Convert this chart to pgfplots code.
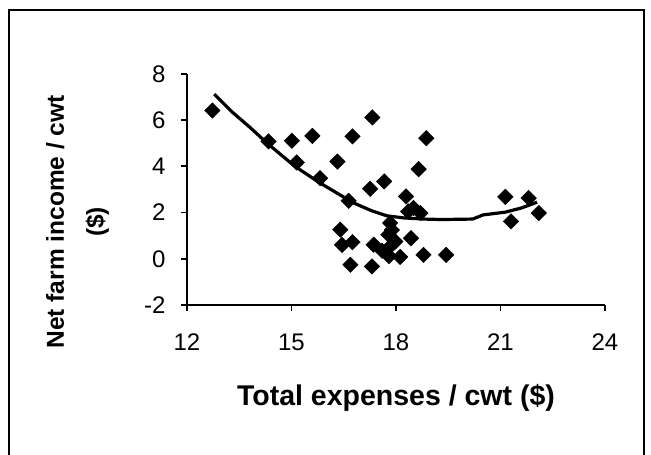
\documentclass[border=0pt]{standalone}
\usepackage{fontspec}
\setmainfont{Liberation Sans}
\usepackage{pgfplots}
\pgfplotsset{compat=1.18}

% scatter points (total expenses / cwt, net farm income / cwt)
\pgfplotstableread{
x y
12.73 6.42
14.34 5.08
15.01 5.11
15.60 5.32
16.75 5.30
17.32 6.12
15.15 4.17
16.32 4.21
15.82 3.49
17.26 3.03
17.66 3.35
16.64 2.51
16.40 1.26
16.45 0.60
16.75 0.72
16.69 -0.26
17.31 -0.33
17.36 0.61
17.60 0.35
17.83 1.55
17.78 1.04
17.83 0.53
17.80 0.12
17.98 0.75
17.88 1.25
18.12 0.08
18.43 0.89
18.79 0.17
19.44 0.17
18.87 5.22
18.65 3.88
18.29 2.70
18.50 2.20
18.70 1.98
18.35 2.05
21.14 2.68
21.81 2.63
22.10 1.98
21.30 1.62
}\pts

% fitted trend line
\pgfplotstableread{
x y
12.78 7.13
13.30 6.35
13.80 5.70
14.29 5.02
14.70 4.50
15.10 4.00
15.50 3.60
15.80 3.30
16.30 2.85
16.78 2.42
17.30 2.08
17.74 1.86
18.22 1.77
18.80 1.72
19.30 1.70
20.20 1.72
20.50 1.90
21.14 2.02
21.60 2.20
22.05 2.45
}\trend

\begin{document}
\begin{tikzpicture}
\path[use as bounding box] (0,0) rectangle (651pt,455pt);
\draw[line width=2pt] (9pt,0pt) -- (9pt,445pt) -- (644pt,445pt) -- (644pt,0pt);
\begin{axis}[
    at={(187pt,150pt)}, anchor=south west,
    scale only axis,
    width=418pt, height=231pt,
    xmin=12, xmax=24, ymin=-2, ymax=8,
    xtick={12,15,18,21,24},
    ytick={-2,0,2,4,6,8},
    axis x line=bottom, axis y line=left,
    axis line style={-, line width=1.8pt},
    tick align=outside,
    major tick length=6pt,
    tick style={line width=1.8pt, black},
    /pgf/number format/assume math mode=true,
    tick label style={font=\fontsize{24}{28}\selectfont},
    xticklabel style={yshift=-19pt},
    yticklabel style={xshift=-12pt},
    xlabel={\textbf{Total expenses / cwt (\$)}},
    xlabel style={at={(axis description cs:0.5,-0.40)}, anchor=center,
        font=\fontsize{28.5}{32}\selectfont},
    ylabel={\textbf{Net farm income / cwt}\\\textbf{(\$)}},
    ylabel style={at={(axis description cs:-0.262,0.36)}, anchor=center,
        rotate=0, align=center, font=\fontsize{24.5}{40}\selectfont},
    clip=false,
]
\addplot[only marks, mark=square*, mark size=5.5pt,
    mark options={rotate=45, fill=black, draw=black}] table[x=x,y=y] {\pts};
\addplot[black, line width=3.2pt, no marks, line join=round] table[x=x,y=y] {\trend};
\end{axis}
\end{tikzpicture}
\end{document}
